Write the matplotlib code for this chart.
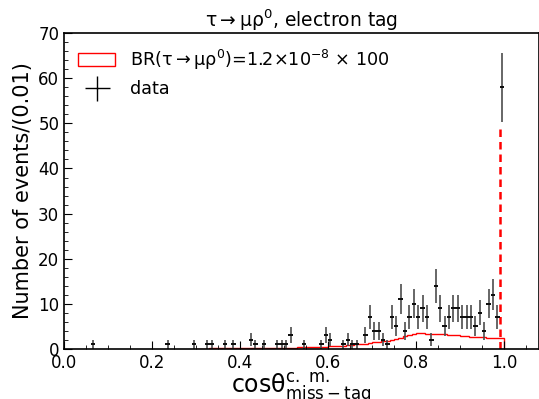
import numpy as np
import matplotlib
matplotlib.use("Agg")
import matplotlib.pyplot as plt
from matplotlib.ticker import MultipleLocator
from matplotlib.patches import Patch
from matplotlib.lines import Line2D

# data: bin low edge (width 0.01) and counts
data_x = [0.06, 0.23, 0.29, 0.32, 0.33, 0.36, 0.38, 0.42, 0.43, 0.45,
          0.48, 0.49, 0.50, 0.51, 0.54, 0.58, 0.59, 0.60, 0.63, 0.64,
          0.65, 0.66, 0.68, 0.69, 0.70, 0.71, 0.72, 0.73, 0.74, 0.75,
          0.76, 0.77, 0.78, 0.79, 0.80, 0.81, 0.82, 0.83, 0.84, 0.85,
          0.86, 0.87, 0.88, 0.89, 0.90, 0.91, 0.92, 0.93, 0.94, 0.95,
          0.96, 0.97, 0.98, 0.99]
data_n = [1, 1, 1, 1, 1, 1, 1, 2, 1, 1,
          1, 1, 1, 3, 1, 1, 3, 2, 1, 2,
          1, 1, 3, 7, 4, 4, 2, 1, 7, 5,
          11, 4, 7, 10, 7, 9, 7, 2, 14, 9,
          5, 7, 9, 9, 7, 7, 7, 5, 8, 4,
          10, 12, 7, 58]

# signal MC (x100), bin low edges 0.30 .. 0.99
sig_edges = np.round(np.arange(0.30, 1.0001, 0.01), 2)
sig_vals = [0.05, 0.05, 0.05, 0.06, 0.06, 0.07, 0.07, 0.08, 0.08, 0.09,
            0.10, 0.11, 0.12, 0.13, 0.14, 0.15, 0.17, 0.18, 0.19, 0.20,
            0.22, 0.24, 0.26, 0.28, 0.30, 0.33, 0.36, 0.40, 0.44, 0.48,
            0.52, 0.58, 0.64, 0.70, 0.78, 0.85, 0.95, 1.05, 1.15, 1.30,
            1.40, 1.50, 1.65, 1.80, 1.90, 2.10, 2.40, 2.80, 3.10, 3.30,
            3.40, 3.40, 3.35, 3.35, 3.30, 3.30, 3.25, 3.15, 3.05, 2.95,
            2.85, 2.75, 2.70, 2.60, 2.55, 2.50, 2.45, 2.40, 2.35, 2.30]
peak_x = 0.99
peak_h = 49

sig_label = r"BR($\mathregular{\tau\rightarrow\mu\rho^0}$)=1.2$\times$10$^{-8}$ $\times$ 100"

fig = plt.figure(figsize=(5.39, 3.99), dpi=100)
ax = fig.add_axes([0.119, 0.126, 0.881, 0.7905])

ax.stairs(sig_vals, sig_edges, color="red", lw=1.0)
ax.vlines(peak_x, 0, peak_h, colors="red", linestyles=(0, (3, 2)), lw=1.8)

xc = np.array(data_x) + 0.005
n = np.array(data_n)
ax.errorbar(xc, n, yerr=np.sqrt(n), xerr=0.005, fmt="none", ecolor="0.3",
            elinewidth=1.2)
ax.errorbar(xc, n, xerr=0.005, fmt="none", ecolor="k", elinewidth=1.2)

ax.set_xlim(0, 1.0795)
ax.set_ylim(0, 70)
ax.xaxis.set_major_locator(MultipleLocator(0.2))
ax.xaxis.set_minor_locator(MultipleLocator(0.05))
ax.yaxis.set_major_locator(MultipleLocator(10))
ax.yaxis.set_minor_locator(MultipleLocator(2))
ax.tick_params(which="both", direction="in", labelsize=12, top=False, right=False)
ax.tick_params(which="major", length=6)
ax.tick_params(which="minor", length=3)
for s in ax.spines.values():
    s.set_linewidth(1.2)

ax.set_title(r"$\mathregular{\tau\rightarrow\mu\rho^0}$, electron tag", fontsize=13.5, pad=4)
ax.set_ylabel("Number of events/(0.01)", fontsize=15)
ax.set_xlabel(r"cos$\mathregular{\theta^{c.\ m.}_{miss-tag}}$", fontsize=17, labelpad=0)

handles = [Patch(facecolor="none", edgecolor="red", lw=1.0),
           Line2D([], [], marker="+", ls="none", color="k", ms=18, mew=1.0)]
ax.legend(handles, [sig_label, "data"], loc="upper left", frameon=False,
          fontsize=12.7, handlelength=2.1, handleheight=0.8, handletextpad=0.85,
          borderaxespad=0.4, labelspacing=0.5)

fig.savefig("out.png", dpi=100)
